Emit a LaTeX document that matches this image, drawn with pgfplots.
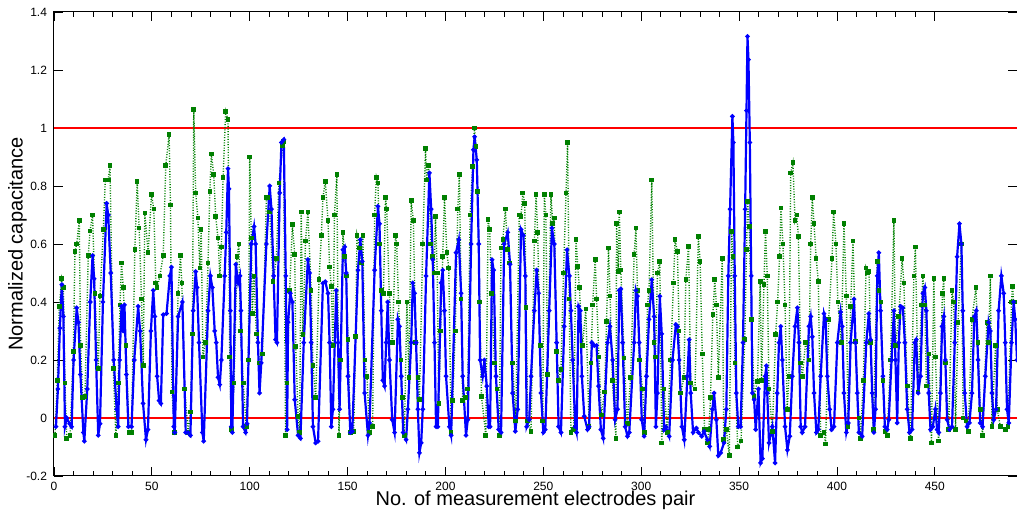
\documentclass[border=0pt]{standalone}
\usepackage{fontspec}
\setmainfont{Liberation Sans}
\usepackage{pgfplots}
\pgfplotsset{compat=1.18}
\definecolor{mblue}{RGB}{0,0,255}
\definecolor{mgreen}{RGB}{0,128,0}
\definecolor{mred}{RGB}{255,0,0}

\pgfplotstableread{
x y
1 -0.03
2 0.1
3 0.31
4 0.46
4.8 0.35
5.6 -0.03
6.5 0.0
8 -0.02
9 -0.03
10 0.2
11.6 0.38
12.5 0.33
13.5 0.15
15 -0.05
15.5 -0.08
17 0.1
18.5 0.4
19.7 0.56
20.5 0.48
21.5 0.2
22.6 -0.06
23.5 -0.02
25 0.4
26.9 0.74
27.7 0.70
29 0.5
30.5 0.2
32 0.03
32.8 -0.03
33.5 0.2
34.5 0.385
35.3 0.3
36 0.39
37 0.15
38 -0.03
39.6 -0.03
41 0.2
43 0.385
44 0.3
45.5 0.05
47 -0.075
48 -0.04
49.5 0.3
50.7 0.44
51.5 0.35
52.7 0.144
53.7 0.06
54.6 0.05
55.8 0.356
57.5 0.36
59.2 0.49
60 0.52
61.2 -0.03
61.7 -0.05
63.4 0.35
65.6 0.40
67.3 -0.05
68.5 -0.05
69.7 -0.06
71.1 0.37
72.4 0.505
73.1 0.45
74.1 0.26
75.8 -0.05
76.5 -0.08
78.7 0.37
79.9 0.49
80.9 0.45
82.1 0.30
82.9 0.26
83.8 0.14
84.7 0.115
85.5 0.2
87.2 0.49
88 0.64
88.9 0.86
89.4 0.79
90.1 0.37
90.6 -0.03
91.1 -0.05
92.9 0.53
94.1 0.466
95 0.49
95.5 0.37
96.6 -0.03
97.9 -0.05
98.6 -0.02
100.8 0.60
102.2 0.66
103 0.60
104.2 0.26
105 0.086
105.9 0.19
108.5 0.60
110.2 0.80
111.1 0.72
112.2 0.49
113.2 0.27
113.9 0.26
115.3 0.776
116.2 0.95
117.4 0.96
118.4 0.49
119.1 -0.04
119.6 0.33
120.7 0.43
121.8 0.40
123 0.063
124.7 -0.06
125.9 -0.07
127.6 0.26
129.7 0.546
130.6 0.50
131.4 0.26
132.3 -0.03
133.7 -0.086
134.9 -0.08
137.4 0.465
138.6 0.47
140 0.43
140.8 0.26
141.7 -0.03
142.5 0.03
144.2 0.44
145.1 0.26
145.9 0.03
147.6 0.58
148.5 0.59
149.3 0.50
150.2 0.144
151.4 -0.05
152.4 -0.046
155.3 0.51
156.5 0.615
157.5 0.54
158.7 0.086
160.4 -0.06
161.2 -0.017
163.8 0.51
165.5 0.73
166.3 0.67
167.2 0.37
168 0.13
168.9 0.11
169.7 0.26
170.5 0.40
171.4 0.2
172.8 -0.006
174 -0.05
175.7 0.34
176.5 0.316
177.4 0.144
178.4 -0.05
179.9 -0.075
180.8 0.03
182.5 0.26
183.3 0.466
184.2 0.43
185 0.26
185.9 0.03
186.7 -0.12
187.6 -0.086
188.4 0.03
190.1 0.49
191.8 0.845
192.7 0.72
193.5 0.546
194.4 0.26
195.2 -0.03
196.1 -0.03
197.8 0.466
198.6 0.51
199.5 0.37
200.3 0.144
202 -0.03
202.9 -0.06
205.4 0.57
206.8 0.615
208 0.43
208.8 0.144
210.5 -0.06
211.4 -0.006
213.1 0.60
214.3 0.925
214.9 0.97
216 0.89
217 0.60
217.7 0.20
219 0.144
219.9 0.20
221.1 0.11
222.1 -0.03
222.8 -0.03
223.8 0.546
224.6 0.51
225.8 0.144
227.2 -0.04
228.4 -0.05
230 0.60
231.8 0.64
233 0.53
234.3 0.086
235.7 -0.046
236.9 0.03
238.6 0.65
239.8 0.63
240.8 0.49
241.5 -0.03
242.8 -0.006
243.7 0.144
245.4 0.37
246.6 0.51
247.6 0.43
248.8 0.086
250 -0.05
251 -0.04
253 0.37
254.4 0.655
255.6 0.60
256.8 0.26
257.8 -0.03
259 -0.05
260.7 0.316
262.1 0.58
263.3 0.49
264.1 0.37
265 0.2
266.3 -0.03
267 -0.05
268 0.385
268.9 0.37
269.7 0.144
270.9 0.006
272.6 -0.04
273.4 -0.03
274.8 0.26
276 0.25
277.2 0.25
278.2 0.11
279.4 -0.04
280.6 -0.07
282.8 0.26
284 0.316
285.4 0.2
286.7 -0.006
287.9 0.03
288.8 0.44
289.6 0.445
290.5 0.26
291.8 -0.03
293 -0.063
293.9 -0.05
296.4 0.26
297.3 0.44
298.1 0.42
299 0.26
300.3 -0.006
301.5 -0.063
302.7 0.144
304 0.34
305.4 0.477
306.6 0.35
307.5 -0.03
308.3 0.086
309.5 0.42
310.5 0.29
311.7 -0.04
312.6 -0.03
314.3 -0.063
316 0.2
317.7 0.322
318.5 0.316
319.4 0.2
320.8 -0.03
322 -0.075
323.6 0.144
324.5 0.27
325.3 0.086
326.5 -0.05
328.2 -0.035
329.2 -0.05
330.9 -0.063
332.1 -0.046
333.8 -0.075
335 -0.098
336.4 0.03
337.2 0.086
338.4 -0.006
339.4 -0.13
340.6 -0.12
342.3 -0.086
343.5 0.03
344.5 0.49
345.4 0.72
346.6 1.04
347.1 0.95
347.8 0.49
348.6 0.086
349.6 -0.03
350.8 -0.03
352 0.26
353.1 0.72
353.8 1.06
354.3 1.316
354.8 1.236
355.5 0.95
356.2 0.49
356.8 0.086
357.7 0.063
358.5 -0.04
359.9 0.1
361 -0.155
361.9 -0.14
363.3 0.144
364 0.18
364.4 0.086
365.3 -0.086
367 -0.03
368.4 -0.155
369.5 0.086
370.4 0.26
371.3 0.316
372.1 0.2
373.5 -0.03
374.7 -0.11
375.9 -0.063
377.2 0.144
378.6 0.316
379.8 0.38
380.6 0.26
381.5 -0.03
382.3 -0.05
383.7 -0.03
385.7 0.316
386.6 0.35
387.4 0.28
388.3 0.086
389.5 -0.05
390.5 -0.04
391.7 0.144
393.4 0.36
394.2 0.34
395.1 0.144
396.3 0.03
397.3 -0.04
398.5 -0.03
400.2 0.26
401.9 0.365
402.7 0.316
403.6 0.086
404.8 -0.05
405.8 -0.017
407 0.26
408.7 0.41
409.5 0.26
410.4 0.086
411.2 -0.05
412.9 -0.063
415 0.26
416.3 0.36
417.2 0.27
418 0.086
418.9 -0.05
419.7 0.03
420.6 0.49
421.4 0.57
422.3 0.37
423.5 0.144
424.5 -0.03
425.7 -0.04
426.5 -0.006
427.9 0.2
429.1 0.37
429.9 0.2
430.8 -0.017
431.6 0.26
432.5 0.385
433.7 0.38
434.7 0.26
435.9 0.03
437.1 -0.05
438.4 -0.04
439.8 0.26
440.5 0.27
441.5 0.086
442.7 0.144
443.9 0.43
444.9 0.45
445.7 0.37
446.9 0.086
447.8 -0.04
449 -0.03
450.3 0.03
451.2 -0.04
452 -0.05
452.9 0.086
453.7 0.316
454.6 0.35
455.4 0.2
456.3 -0.006
457.5 -0.04
458.8 -0.03
460.2 0.26
461.4 0.556
462.6 0.67
463.6 0.60
464.3 0.37
465.3 0.086
466.5 -0.03
467.7 -0.017
469 0.086
470.2 0.35
471.2 0.37
472.1 0.2
473.2 -0.017
474.4 -0.03
475.8 0.144
477.5 0.33
478.4 0.30
479.2 0.086
480.1 -0.006
481.3 0.03
482.6 0.37
484 0.49
485.2 0.43
486 0.26
486.9 0.03
487.8 -0.017
489.2 0.26
490.3 0.40
491.1 0.34
492 0.2
}\bluedata

\pgfplotstableread{
x y
0.5 -0.06
1.7 0.13
2.7 0.385
3.9 0.48
4.8 0.45
5.6 0.12
6.5 -0.07
8.2 -0.06
9.9 0.23
10.7 0.575
11.6 0.60
12.9 0.68
13.6 0.25
14.6 0.07
15.8 0.075
17.5 0.56
18.4 0.645
19.7 0.70
20.9 0.43
22.6 0.17
23.5 0.42
25.2 0.65
26.2 0.82
27.7 0.82
28.6 0.87
30.3 0.17
31.6 -0.06
32.8 0.12
33.7 0.39
34.5 0.535
35.4 0.45
36.7 0.25
38.4 -0.05
39.6 -0.05
41.3 0.58
42.5 0.816
43.5 0.655
44.7 0.41
45.6 0.18
46.4 0.707
48.1 0.57
49.8 0.77
51.0 0.72
52.0 0.465
52.7 0.45
54.1 0.49
55.8 0.56
57.1 0.87
58.8 0.977
59.5 0.735
60.3 0.09
61.7 -0.05
63.4 0.43
64.6 0.56
65.3 0.465
66.8 0.10
68.5 -0.05
69.7 0.02
70.7 0.29
71.4 1.063
72.4 0.776
73.5 0.69
74.5 0.517
75.2 0.65
76.1 0.21
77.4 0.26
78.7 0.535
79.6 0.78
80.4 0.91
81.6 0.84
82.6 0.695
83.8 0.62
84.7 0.49
85.5 0.59
86.4 0.83
87.7 1.057
88.9 1.03
89.8 0.21
90.6 -0.04
92.0 0.12
93.5 0.557
94.5 0.60
95.2 0.30
96.7 0.12
98.2 -0.03
99.3 0.2
100.0 0.90
100.8 0.62
101.3 0.36
102.2 0.49
103.4 0.29
105.0 0.19
106.5 0.22
108.5 0.76
109.3 0.76
110.2 0.71
111.9 0.47
113.6 0.55
114.9 0.81
116.7 0.94
117.3 0.954
118.3 -0.06
119.0 0.12
120.4 0.44
121.8 0.667
123.0 0.563
123.5 0.247
124.7 0.006
125.5 -0.05
126.3 0.71
127.2 0.287
128.5 0.61
129.7 0.71
131.4 0.44
132.3 0.18
133.7 0.07
135.4 0.477
136.6 0.63
137.4 0.76
138.6 0.816
140.0 0.68
140.8 0.52
141.7 0.454
142.5 0.25
143.3 0.70
144.5 0.84
145.6 -0.06
146.5 0.2
147.6 0.64
148.5 0.557
149.3 0.49
150.2 0.27
151.4 -0.05
153.1 -0.046
154.1 0.28
154.8 0.63
156.1 0.586
157.0 0.535
157.8 0.63
158.8 0.2
159.9 0.144
161.2 -0.05
162.8 -0.03
163.8 0.70
164.7 0.83
165.5 0.81
166.3 0.6
167.2 0.44
168.3 0.43
169.4 0.76
170.0 0.72
171.3 0.43
172.9 0.26
174.5 0.63
175.1 0.60
176.0 0.40
177.2 0.2
178.0 0.07
179.0 -0.06
180.3 0.40
181.3 0.14
182.5 0.75
183.6 0.68
184.8 0.26
185.9 0.14
186.7 0.063
188.4 0.60
189.8 0.93
190.4 0.82
191.4 0.87
192.5 0.6
193.5 0.557
194.2 0.5
194.9 0.695
195.8 0.5
196.6 0.05
197.5 0.3
198.6 0.557
199.5 0.76
200.7 0.57
201.7 0.517
202.9 -0.05
203.7 0.06
205.0 0.3
206.3 0.72
207.1 0.84
208.0 0.41
208.8 0.06
210.2 0.07
211.4 0.10
212.6 0.70
213.9 0.868
214.8 1.0
215.6 0.937
216.5 0.78
217.5 0.4
218.4 0.075
220.6 -0.06
221.8 0.684
222.6 0.65
223.6 0.43
225.0 0.19
226.3 0.1
227.5 -0.06
228.4 0.586
229.3 0.615
230.6 0.72
231.8 0.58
232.6 0.535
234.3 0.19
235.9 -0.01
237.7 0.70
238.6 0.695
239.5 0.776
240.5 0.74
241.2 0.38
242.0 -0.01
243.7 -0.046
245.4 0.61
246.3 0.77
247.1 0.64
248.4 0.25
249.7 -0.01
250.5 0.77
251.3 0.70
252.2 0.15
253.9 0.77
254.8 0.67
255.6 0.69
256.8 0.23
257.8 0.13
259.0 0.167
260.3 0.5
261.6 0.776
262.4 0.95
263.2 0.41
264.1 -0.05
265.5 -0.04
266.7 0.615
267.6 0.523
268.4 0.45
270.0 0.25
271.7 0.376
273.4 -0.03
274.3 0.19
275.2 0.39
276.5 0.546
277.2 0.41
278.4 0.21
279.6 0.01
281.3 0.09
282.3 0.333
283.3 0.586
284.1 0.42
285.3 0.13
287.1 -0.07
287.4 0.67
288.3 0.506
288.8 0.71
289.6 0.51
291.3 0.207
292.9 -0.02
294.6 0.14
296.4 0.563
297.3 0.655
298.1 0.44
299.0 0.2
300.7 0.10
301.8 -0.05
303.2 0.39
304.0 0.44
305.4 0.82
306.6 0.26
307.3 0.21
308.3 0.50
309.5 0.54
310.5 -0.086
311.7 0.1
313.4 -0.05
315.0 0.2
316.5 0.465
317.3 0.615
318.5 0.575
319.4 0.30
320.2 0.086
321.8 0.14
322.8 0.477
324.2 0.592
325.3 0.12
327.5 0.10
329.2 0.626
330.1 0.54
331.2 0.22
332.4 -0.04
333.8 -0.086
334.6 -0.04
335.4 0.07
336.6 0.356
337.6 0.477
338.4 0.39
339.4 0.14
341.4 0.55
342.2 -0.075
343.5 -0.04
345.0 -0.13
346.2 0.644
346.9 0.557
347.9 0.19
349.3 -0.1
351.0 -0.08
352.9 0.27
353.8 0.58
354.4 0.747
355.2 0.66
356.4 0.34
357.7 0.075
359.4 0.126
360.8 0.47
361.5 0.13
362.7 0.46
363.5 0.644
364.4 0.49
365.3 0.10
367.0 -0.046
368.7 0.287
369.7 0.40
370.7 0.557
371.4 0.724
372.4 0.60
373.5 0.39
374.6 0.03
375.5 0.144
376.4 0.845
377.5 0.88
378.6 0.68
379.5 0.70
380.3 0.626
381.5 0.19
382.3 0.144
384.0 0.26
385.7 0.2
386.6 0.6
387.4 0.76
388.3 0.67
389.4 0.55
390.5 0.47
391.7 -0.06
393.4 -0.05
394.2 -0.09
395.8 0.34
397.5 0.55
398.3 0.71
399.5 0.60
400.5 0.40
402.2 0.26
403.6 0.67
404.8 0.42
405.7 -0.03
407.0 0.385
408.2 0.61
409.5 0.264
411.2 0.0
412.0 -0.07
413.5 0.13
414.9 0.517
415.7 0.50
416.4 0.506
417.2 0.26
418.6 -0.04
420.6 0.54
421.4 0.44
422.5 0.40
423.5 0.13
424.5 -0.046
425.7 -0.06
427.4 0.2
429.1 0.68
429.9 0.25
431.6 0.35
433.3 0.55
434.2 0.465
435.9 0.11
437.6 -0.07
439.3 0.49
440.1 0.59
441.5 0.09
443.2 0.39
443.9 0.49
444.9 0.39
445.7 0.11
447.0 0.22
448.3 -0.086
449.5 0.48
450.3 0.21
451.9 -0.08
453.9 0.43
454.6 0.48
455.4 0.19
457.1 -0.04
458.8 0.44
459.7 0.40
460.6 -0.04
461.9 0.33
463.6 0.60
464.5 0.0
465.9 -0.01
467.1 -0.046
469.0 0.34
471.0 0.45
472.1 0.26
473.2 0.03
474.4 -0.06
476.6 0.33
477.5 0.26
478.4 0.49
479.2 -0.03
481.0 0.25
481.9 0.03
483.5 -0.03
486.0 -0.04
487.3 -0.03
489.2 0.40
489.7 0.454
490.3 0.40
491.1 0.40
}\greendata

\begin{document}
\begin{tikzpicture}
\begin{axis}[
    scale only axis,
    width=481.5pt,
    height=232pt,
    at={(0pt,0pt)},
    anchor=south west,
    xmin=0, xmax=492,
    ymin=-0.2, ymax=1.4,
    xtick={0,50,...,450},
    minor x tick num=4,
    ytick={-0.2,0,0.2,0.4,0.6,0.8,1,1.2,1.4},
    yticklabels={-0.2,0,0.2,0.4,0.6,0.8,1,1.2,1.4},
    major tick length=4.5pt,
    minor tick length=2.5pt,
    tick style={black, line width=0.4pt},
    axis line style={black, line width=0.5pt},
    tick label style={font=\fontsize{6}{7}\selectfont},
    xticklabel style={yshift=0.5pt},
    /pgf/number format/assume math mode=true,
    xlabel={No. of measurement electrodes pair},
    ylabel={Normalized capacitance},
    label style={font=\fontsize{10}{12}\selectfont},
    x label style={at={(axis description cs:0.5,-0.053)}, anchor=center},
    y label style={at={(axis description cs:-0.038,0.5)}, anchor=center},
    clip=true,
]
\addplot[color=mred, draw=mred, line width=0.65pt, forget plot] coordinates {(0,0) (492,0)};
\addplot[color=mred, draw=mred, line width=0.65pt, forget plot] coordinates {(0,1) (492,1)};
\addplot[color=mgreen, line width=0.7pt, dash pattern=on 0.5pt off 0.8pt,
    mark=square*, mark size=0.8pt, mark options={solid, fill=mgreen}]
    table[x=x, y=y] {\greendata};
\addplot[color=mblue, line width=1.1pt,
    mark=*, mark size=0.5pt, mark options={fill=mblue}]
    table[x=x, y=y] {\bluedata};
\end{axis}
\pgfresetboundingbox
\path[use as bounding box] (-27pt,-18.5pt) rectangle (481.5pt,238pt);
\end{tikzpicture}
\end{document}
